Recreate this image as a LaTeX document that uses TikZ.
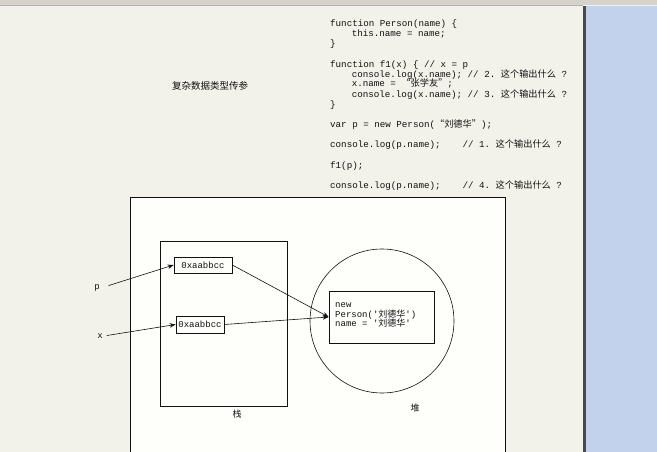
\documentclass[tikz,border=0pt]{standalone}
\usepackage{fontspec}
\setmonofont{Liberation Mono}
\newfontfamily\cjk{Noto Sans CJK SC}
\usetikzlibrary{arrows.meta}
\definecolor{pagebg}{HTML}{F3F2EA}
\definecolor{sheet}{HTML}{FEFEFB}
\definecolor{toolbar}{HTML}{D6D3CA}
\definecolor{panel}{HTML}{C2D2EC}
\definecolor{divider}{HTML}{454A52}
\definecolor{ink}{HTML}{111111}
\newcommand\zh[1]{{\cjk #1}}
\begin{document}
\begin{tikzpicture}[x=1pt,y=-1pt,
  codeline/.style={anchor=base west,inner sep=0pt,font=\ttfamily\fontsize{9.2}{9.2}\selectfont\frenchspacing,text=ink},
  cjklabel/.style={inner sep=0pt,font=\cjk\fontsize{9}{9}\selectfont,text=ink},
  valbox/.style={draw=ink,line width=0.7pt,inner sep=0pt,font=\ttfamily\fontsize{9}{9}\selectfont,text=ink},
  frame/.style={draw=ink,line width=0.7pt},
  arr/.style={draw=ink,line width=0.6pt,-{Stealth[length=6pt,width=4.5pt]}}]
\useasboundingbox (0,0) rectangle (657,452);
% screen background
\fill[pagebg] (0,0) rectangle (657,452);
\fill[toolbar] (0,0) rectangle (657,5);
\draw[gray!60,line width=0.8pt] (0,5.5) -- (583,5.5);
\fill[panel] (585,6) rectangle (657,452);
\fill[divider] (583,6) rectangle (586,452);
% white sheet
\filldraw[fill=sheet,draw=ink,line width=0.8pt] (130,197) rectangle (505,460);
% code
\node[codeline] (c1) at (330,27) {function Person(name) \{};
\node[codeline] (c2) at (351.6,37) {this.name = name;};
\node[codeline] (c3) at (330,46.5) {\}};
\node[codeline] (c4) at (330,67.5) {function f1(x) \{ // x = p};
\node[codeline] (c5) at (351.6,77.5) {console.log(x.name); // 2. \zh{这个输出什么} ?};
\node[codeline] (c6) at (351.6,87) {x.name = \zh{“张学友”};};
\node[codeline] (c7) at (351.6,97.5) {console.log(x.name); // 3. \zh{这个输出什么} ?};
\node[codeline] (c8) at (330,107.5) {\}};
\node[codeline] (c9) at (330,128) {var p = new Person(\zh{“刘德华”});};
\node[codeline] (c10) at (330,148) {console.log(p.name);\hspace{22pt}// 1. \zh{这个输出什么} ?};
\node[codeline] (c11) at (330,168) {f1(p);};
\node[codeline] (c12) at (330,189) {console.log(p.name);\hspace{22pt}// 4. \zh{这个输出什么} ?};
% title
\node[cjklabel,font=\cjk\fontsize{9.5}{9.5}\selectfont] (title) at (210,86) {复杂数据类型传参};
% stack
\node[frame,minimum width=127pt,minimum height=165pt,inner sep=0pt] (stack) at (223.5,323.5) {};
\node[cjklabel] (stacklbl) at (237,414) {栈};
\node[valbox,minimum width=58pt,minimum height=16pt] (bp) at (203,265) {0xaabbcc};
\node[valbox,minimum width=48pt,minimum height=17pt] (bx) at (200,324.5) {0xaabbcc};
% heap
\node[draw=ink,line width=0.6pt,circle,minimum size=144pt,inner sep=0pt] (heap) at (382,321) {};
\node[cjklabel] (heaplbl) at (415,408) {堆};
\node[frame,minimum width=105pt,minimum height=52pt,inner sep=0pt] (obj) at (381.5,317) {};
\node[codeline,anchor=north west,align=left,font=\ttfamily\fontsize{9}{9.5}\selectfont] (objtxt) at (335,302.5)
  {new\\Person('\zh{刘德华}')\\name = '\zh{刘德华}'};
% variable labels
\node[inner sep=1pt,font=\ttfamily\fontsize{9}{9}\selectfont,text=ink] (pl) at (97,288) {p};
\node[inner sep=1pt,font=\ttfamily\fontsize{9}{9}\selectfont,text=ink] (xl) at (100,336) {x};
% connectors
\draw[arr,shorten <=8pt] (pl.east) -- (bp.west);
\draw[arr,shorten <=3pt] (xl.east) -- (bx.west);
\draw[arr] (bp.east) -- (obj.west);
\draw[arr] (bx.east) -- (obj.west);
\end{tikzpicture}
\end{document}
